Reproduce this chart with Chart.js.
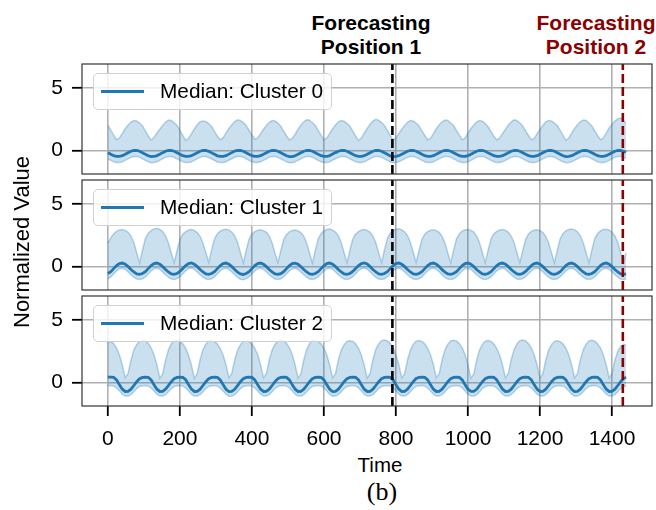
<!DOCTYPE html>
<html>
<head>
<meta charset="utf-8">
<script src="https://cdn.jsdelivr.net/npm/chart.js@4.4.0/dist/chart.umd.min.js"></script>
<style>
  html, body { margin: 0; padding: 0; background: #fff; }
  #fig { position: relative; width: 656px; height: 510px; overflow: hidden;
         font-family: 'Liberation Sans', Arial, sans-serif; color: #000; }
  #fig canvas { position: absolute; left: 0; }
  .ttl { position: absolute; top: 11px; font-weight: bold; font-size: 21px; line-height: 23.5px;
         text-align: center; white-space: nowrap; transform: translateX(-50%); }
  .lgd { position: absolute; left: 93px; width: 239px; height: 37px; box-sizing: border-box;
         border: 1.5px solid #d0d0d0; border-radius: 5px; background: rgba(255,255,255,0.8);
         display: flex; align-items: center; padding-left: 7px; }
  .lgd i { display: block; width: 43px; height: 2.8px; margin-right: 16px; }
  .lgd span { font-size: 20.8px; line-height: 1; white-space: nowrap; }
  #ylab { position: absolute; left: 22px; top: 242px; font-size: 22px; white-space: nowrap;
          transform: translate(-50%, -50%) rotate(-90deg); }
  #xlab { position: absolute; left: 380px; top: 465px; font-size: 20.5px; transform: translate(-50%, -50%); }
  #cap { position: absolute; left: 382px; top: 492px; font-family: 'Liberation Serif', 'Times New Roman', serif;
         font-size: 26px; transform: translate(-50%, -50%); white-space: nowrap; }
</style>
</head>
<body>
<div id="fig">
  <canvas id="c0" width="656" height="122"></canvas>
  <canvas id="c1" width="656" height="122"></canvas>
  <canvas id="c2" width="656" height="161"></canvas>
  <div class="ttl" id="t1" style="left:371px;color:#000"></div>
  <div class="ttl" id="t2" style="left:596px;color:#8b0000"></div>
  <div id="ylab"></div>
  <div id="xlab"></div>
  <div id="cap"></div>
</div>
<script>
'use strict';
// ─────────────────────────────────────────────
//  DATA  (sampled every 8 steps, read off the figure)
// ─────────────────────────────────────────────

const TIME = [
  0, 8, 16, 24, 32, 40, 48, 56, 64, 72, 80, 88,
  96, 104, 112, 120, 128, 136, 144, 152, 160, 168, 176, 184,
  192, 200, 208, 216, 224, 232, 240, 248, 256, 264, 272, 280,
  288, 296, 304, 312, 320, 328, 336, 344, 352, 360, 368, 376,
  384, 392, 400, 408, 416, 424, 432, 440, 448, 456, 464, 472,
  480, 488, 496, 504, 512, 520, 528, 536, 544, 552, 560, 568,
  576, 584, 592, 600, 608, 616, 624, 632, 640, 648, 656, 664,
  672, 680, 688, 696, 704, 712, 720, 728, 736, 744, 752, 760,
  768, 776, 784, 792, 800, 808, 816, 824, 832, 840, 848, 856,
  864, 872, 880, 888, 896, 904, 912, 920, 928, 936, 944, 952,
  960, 968, 976, 984, 992, 1000, 1008, 1016, 1024, 1032, 1040, 1048,
  1056, 1064, 1072, 1080, 1088, 1096, 1104, 1112, 1120, 1128, 1136, 1144,
  1152, 1160, 1168, 1176, 1184, 1192, 1200, 1208, 1216, 1224, 1232, 1240,
  1248, 1256, 1264, 1272, 1280, 1288, 1296, 1304, 1312, 1320, 1328, 1336,
  1344, 1352, 1360, 1368, 1376, 1384, 1392, 1400, 1408, 1416, 1424, 1432,
  1439,
];

// Cluster 0
const HIGH_0 = [
  2.02, 1.62, 1.22, 0.86, 1.00, 1.36, 1.74, 2.04, 2.28, 2.40, 2.36, 2.20,
  1.96, 1.56, 1.16, 0.84, 1.04, 1.40, 1.70, 2.00, 2.26, 2.44, 2.40, 2.22,
  2.00, 1.60, 1.20, 0.80, 0.96, 1.34, 1.72, 2.06, 2.30, 2.36, 2.32, 2.16,
  1.92, 1.52, 1.14, 0.86, 1.02, 1.40, 1.76, 2.06, 2.32, 2.46, 2.40, 2.24,
  2.00, 1.62, 1.24, 0.90, 1.00, 1.34, 1.70, 2.00, 2.24, 2.40, 2.36, 2.20,
  1.94, 1.54, 1.18, 0.84, 0.96, 1.30, 1.70, 2.04, 2.30, 2.46, 2.42, 2.22,
  2.00, 1.60, 1.20, 0.86, 1.00, 1.36, 1.74, 2.04, 2.30, 2.40, 2.34, 2.18,
  1.94, 1.54, 1.16, 0.80, 1.00, 1.40, 1.76, 2.10, 2.36, 2.50, 2.42, 2.24,
  2.00, 1.60, 1.20, 0.84, 1.00, 1.36, 1.70, 2.00, 2.26, 2.40, 2.36, 2.20,
  1.96, 1.56, 1.20, 0.86, 0.96, 1.34, 1.74, 2.06, 2.30, 2.44, 2.40, 2.20,
  2.00, 1.60, 1.22, 0.86, 1.00, 1.40, 1.76, 2.04, 2.30, 2.40, 2.34, 2.16,
  1.90, 1.50, 1.14, 0.84, 1.00, 1.36, 1.70, 2.04, 2.30, 2.46, 2.40, 2.20,
  1.96, 1.56, 1.20, 0.86, 0.96, 1.34, 1.70, 2.00, 2.30, 2.40, 2.36, 2.20,
  2.00, 1.60, 1.20, 0.80, 1.00, 1.40, 1.76, 2.06, 2.30, 2.44, 2.40, 2.20,
  1.96, 1.56, 1.20, 0.86, 1.00, 1.40, 1.80, 2.10, 2.36, 2.54, 2.60, 2.40,
  2.16,
];
const MED_0 = [
  -0.19, -0.31, -0.43, -0.49, -0.49, -0.43, -0.31, -0.19, -0.07, -0.01, -0.01, -0.07,
  -0.19, -0.32, -0.43, -0.50, -0.49, -0.42, -0.31, -0.18, -0.07, -0.01, 0.00, -0.07,
  -0.19, -0.31, -0.43, -0.49, -0.49, -0.43, -0.31, -0.19, -0.07, -0.01, -0.01, -0.08,
  -0.20, -0.32, -0.44, -0.49, -0.49, -0.43, -0.30, -0.18, -0.06, 0.00, -0.01, -0.07,
  -0.19, -0.31, -0.43, -0.49, -0.49, -0.43, -0.31, -0.19, -0.07, -0.01, -0.01, -0.07,
  -0.19, -0.31, -0.43, -0.50, -0.50, -0.43, -0.31, -0.19, -0.07, -0.01, -0.01, -0.07,
  -0.19, -0.32, -0.43, -0.49, -0.49, -0.42, -0.30, -0.18, -0.07, -0.01, 0.00, -0.07,
  -0.19, -0.31, -0.43, -0.49, -0.49, -0.43, -0.31, -0.19, -0.07, -0.01, -0.01, -0.07,
  -0.19, -0.31, -0.44, -0.50, -0.49, -0.43, -0.31, -0.19, -0.07, -0.01, -0.01, -0.07,
  -0.19, -0.31, -0.43, -0.49, -0.49, -0.43, -0.31, -0.19, -0.07, 0.00, -0.01, -0.07,
  -0.19, -0.31, -0.43, -0.49, -0.49, -0.43, -0.31, -0.19, -0.07, -0.01, -0.01, -0.07,
  -0.20, -0.32, -0.43, -0.49, -0.49, -0.43, -0.31, -0.19, -0.07, -0.01, -0.01, -0.07,
  -0.19, -0.31, -0.43, -0.49, -0.49, -0.43, -0.31, -0.19, -0.07, -0.01, -0.01, -0.07,
  -0.19, -0.31, -0.43, -0.50, -0.49, -0.43, -0.31, -0.19, -0.07, -0.01, 0.00, -0.07,
  -0.19, -0.31, -0.43, -0.49, -0.49, -0.43, -0.31, -0.19, -0.07, -0.01, -0.01, -0.07,
  -0.15,
];
const LOW_0 = [
  -0.68, -0.80, -0.92, -0.98, -0.98, -0.92, -0.80, -0.68, -0.56, -0.50, -0.50, -0.56,
  -0.68, -0.81, -0.92, -0.99, -0.98, -0.91, -0.80, -0.67, -0.56, -0.50, -0.49, -0.56,
  -0.68, -0.80, -0.92, -0.98, -0.98, -0.92, -0.80, -0.68, -0.56, -0.50, -0.50, -0.57,
  -0.69, -0.81, -0.93, -0.98, -0.98, -0.92, -0.79, -0.67, -0.55, -0.49, -0.50, -0.56,
  -0.68, -0.80, -0.92, -0.98, -0.98, -0.92, -0.80, -0.68, -0.56, -0.50, -0.50, -0.56,
  -0.68, -0.80, -0.92, -0.99, -0.99, -0.92, -0.80, -0.68, -0.56, -0.50, -0.50, -0.56,
  -0.68, -0.81, -0.92, -0.98, -0.98, -0.91, -0.79, -0.67, -0.56, -0.50, -0.49, -0.56,
  -0.68, -0.80, -0.92, -0.98, -0.98, -0.92, -0.80, -0.68, -0.56, -0.50, -0.50, -0.56,
  -0.68, -0.80, -0.93, -0.99, -0.98, -0.92, -0.80, -0.68, -0.56, -0.50, -0.50, -0.56,
  -0.68, -0.80, -0.92, -0.98, -0.98, -0.92, -0.80, -0.68, -0.56, -0.49, -0.50, -0.56,
  -0.68, -0.80, -0.92, -0.98, -0.98, -0.92, -0.80, -0.68, -0.56, -0.50, -0.50, -0.56,
  -0.69, -0.81, -0.92, -0.98, -0.98, -0.92, -0.80, -0.68, -0.56, -0.50, -0.50, -0.56,
  -0.68, -0.80, -0.92, -0.98, -0.98, -0.92, -0.80, -0.68, -0.56, -0.50, -0.50, -0.56,
  -0.68, -0.80, -0.92, -0.99, -0.98, -0.92, -0.80, -0.68, -0.56, -0.50, -0.49, -0.56,
  -0.68, -0.80, -0.92, -0.98, -0.98, -0.92, -0.80, -0.68, -0.56, -0.50, -0.50, -0.56,
  -0.64,
];

// Cluster 1
const HIGH_1 = [
  1.90, 2.30, 2.62, 2.82, 2.92, 2.96, 2.90, 2.74, 2.44, 1.90, 1.10, 0.28,
  1.30, 2.24, 2.66, 2.88, 3.02, 3.06, 2.98, 2.80, 2.46, 1.88, 1.08, 0.30,
  1.28, 2.18, 2.58, 2.80, 2.92, 2.96, 2.90, 2.72, 2.42, 1.86, 1.10, 0.32,
  1.32, 2.22, 2.62, 2.84, 2.94, 2.98, 2.92, 2.76, 2.46, 1.92, 1.12, 0.28,
  1.30, 2.20, 2.60, 2.80, 2.90, 2.94, 2.88, 2.74, 2.44, 1.88, 1.08, 0.30,
  1.26, 2.16, 2.56, 2.78, 2.88, 2.92, 2.86, 2.72, 2.42, 1.86, 1.06, 0.28,
  1.32, 2.22, 2.64, 2.86, 2.96, 3.00, 2.92, 2.76, 2.46, 1.90, 1.10, 0.30,
  1.30, 2.20, 2.60, 2.80, 2.92, 2.96, 2.90, 2.74, 2.44, 1.90, 1.10, 0.30,
  1.34, 2.24, 2.66, 2.88, 2.98, 3.02, 2.94, 2.78, 2.48, 1.92, 1.12, 0.32,
  1.28, 2.18, 2.58, 2.80, 2.90, 2.94, 2.88, 2.74, 2.42, 1.88, 1.08, 0.28,
  1.30, 2.22, 2.62, 2.84, 2.94, 2.96, 2.90, 2.76, 2.44, 1.90, 1.10, 0.30,
  1.32, 2.22, 2.62, 2.82, 2.92, 2.96, 2.90, 2.74, 2.44, 1.90, 1.10, 0.30,
  1.28, 2.18, 2.60, 2.82, 2.92, 2.94, 2.88, 2.72, 2.42, 1.88, 1.08, 0.28,
  1.30, 2.22, 2.64, 2.86, 2.96, 3.00, 2.94, 2.78, 2.46, 1.90, 1.10, 0.30,
  1.32, 2.24, 2.64, 2.86, 2.96, 2.98, 2.92, 2.76, 2.46, 1.92, 1.12, 0.30,
  1.10,
];
const MED_1 = [
  -0.58, -0.42, -0.18, 0.06, 0.22, 0.27, 0.18, -0.02, -0.25, -0.45, -0.60, -0.64,
  -0.57, -0.42, -0.18, 0.06, 0.22, 0.27, 0.18, -0.02, -0.25, -0.45, -0.60, -0.64,
  -0.57, -0.41, -0.17, 0.07, 0.23, 0.28, 0.18, -0.02, -0.25, -0.45, -0.60, -0.64,
  -0.57, -0.42, -0.18, 0.06, 0.22, 0.27, 0.18, -0.02, -0.25, -0.46, -0.61, -0.65,
  -0.57, -0.42, -0.18, 0.06, 0.22, 0.27, 0.18, -0.02, -0.25, -0.45, -0.60, -0.64,
  -0.58, -0.42, -0.18, 0.06, 0.22, 0.26, 0.17, -0.03, -0.25, -0.45, -0.60, -0.64,
  -0.57, -0.42, -0.18, 0.06, 0.22, 0.27, 0.18, -0.02, -0.25, -0.45, -0.60, -0.64,
  -0.57, -0.41, -0.17, 0.07, 0.23, 0.28, 0.19, -0.02, -0.25, -0.45, -0.60, -0.64,
  -0.57, -0.42, -0.18, 0.06, 0.22, 0.27, 0.18, -0.02, -0.25, -0.45, -0.60, -0.64,
  -0.57, -0.42, -0.18, 0.06, 0.22, 0.27, 0.18, -0.02, -0.26, -0.46, -0.60, -0.64,
  -0.57, -0.42, -0.18, 0.06, 0.22, 0.27, 0.18, -0.02, -0.25, -0.45, -0.60, -0.64,
  -0.57, -0.42, -0.18, 0.06, 0.22, 0.27, 0.18, -0.02, -0.25, -0.45, -0.60, -0.64,
  -0.57, -0.41, -0.17, 0.06, 0.22, 0.27, 0.18, -0.02, -0.25, -0.45, -0.60, -0.64,
  -0.57, -0.42, -0.18, 0.06, 0.22, 0.27, 0.18, -0.02, -0.25, -0.45, -0.60, -0.64,
  -0.57, -0.42, -0.18, 0.06, 0.22, 0.27, 0.18, -0.02, -0.25, -0.45, -0.60, -0.64,
  -0.60,
];
const LOW_1 = [
  -1.00, -0.84, -0.60, -0.36, -0.20, -0.15, -0.24, -0.44, -0.67, -0.87, -1.02, -1.06,
  -0.99, -0.84, -0.60, -0.36, -0.20, -0.15, -0.24, -0.44, -0.67, -0.87, -1.02, -1.06,
  -0.99, -0.83, -0.59, -0.35, -0.19, -0.14, -0.24, -0.44, -0.67, -0.87, -1.02, -1.06,
  -0.99, -0.84, -0.60, -0.36, -0.20, -0.15, -0.24, -0.44, -0.67, -0.88, -1.03, -1.07,
  -0.99, -0.84, -0.60, -0.36, -0.20, -0.15, -0.24, -0.44, -0.67, -0.87, -1.02, -1.06,
  -1.00, -0.84, -0.60, -0.36, -0.20, -0.16, -0.25, -0.45, -0.67, -0.87, -1.02, -1.06,
  -0.99, -0.84, -0.60, -0.36, -0.20, -0.15, -0.24, -0.44, -0.67, -0.87, -1.02, -1.06,
  -0.99, -0.83, -0.59, -0.35, -0.19, -0.14, -0.23, -0.44, -0.67, -0.87, -1.02, -1.06,
  -0.99, -0.84, -0.60, -0.36, -0.20, -0.15, -0.24, -0.44, -0.67, -0.87, -1.02, -1.06,
  -0.99, -0.84, -0.60, -0.36, -0.20, -0.15, -0.24, -0.44, -0.68, -0.88, -1.02, -1.06,
  -0.99, -0.84, -0.60, -0.36, -0.20, -0.15, -0.24, -0.44, -0.67, -0.87, -1.02, -1.06,
  -0.99, -0.84, -0.60, -0.36, -0.20, -0.15, -0.24, -0.44, -0.67, -0.87, -1.02, -1.06,
  -0.99, -0.83, -0.59, -0.36, -0.20, -0.15, -0.24, -0.44, -0.67, -0.87, -1.02, -1.06,
  -0.99, -0.84, -0.60, -0.36, -0.20, -0.15, -0.24, -0.44, -0.67, -0.87, -1.02, -1.06,
  -0.99, -0.84, -0.60, -0.36, -0.20, -0.15, -0.24, -0.44, -0.67, -0.87, -1.02, -1.06,
  -1.02,
];

// Cluster 2
const HIGH_2 = [
  3.20, 3.30, 3.12, 2.76, 2.20, 1.40, 0.36, 0.72, 1.80, 2.60, 3.06, 3.30,
  3.38, 3.34, 3.14, 2.78, 2.22, 1.42, 0.34, 0.68, 1.78, 2.62, 3.10, 3.36,
  3.40, 3.32, 3.10, 2.74, 2.18, 1.38, 0.32, 0.70, 1.82, 2.64, 3.08, 3.34,
  3.36, 3.30, 3.08, 2.72, 2.18, 1.40, 0.36, 0.72, 1.80, 2.58, 3.04, 3.30,
  3.34, 3.28, 3.08, 2.74, 2.20, 1.42, 0.38, 0.70, 1.80, 2.60, 3.06, 3.32,
  3.42, 3.36, 3.14, 2.78, 2.22, 1.40, 0.34, 0.68, 1.82, 2.64, 3.12, 3.38,
  3.36, 3.30, 3.10, 2.76, 2.20, 1.40, 0.36, 0.70, 1.80, 2.60, 3.04, 3.30,
  3.34, 3.30, 3.10, 2.74, 2.18, 1.38, 0.34, 0.72, 1.84, 2.66, 3.10, 3.36,
  3.40, 3.34, 3.12, 2.76, 2.20, 1.40, 0.36, 0.70, 1.80, 2.60, 3.06, 3.32,
  3.36, 3.30, 3.10, 2.74, 2.20, 1.42, 0.36, 0.70, 1.80, 2.62, 3.08, 3.34,
  3.38, 3.32, 3.12, 2.78, 2.22, 1.40, 0.34, 0.68, 1.78, 2.60, 3.06, 3.32,
  3.36, 3.30, 3.08, 2.72, 2.18, 1.38, 0.36, 0.72, 1.82, 2.64, 3.10, 3.36,
  3.40, 3.34, 3.12, 2.76, 2.20, 1.40, 0.34, 0.70, 1.80, 2.60, 3.04, 3.30,
  3.34, 3.28, 3.08, 2.74, 2.20, 1.40, 0.36, 0.70, 1.82, 2.62, 3.08, 3.34,
  3.38, 3.32, 3.10, 2.76, 2.20, 1.40, 0.36, 0.70, 1.80, 2.50, 2.90, 3.05,
  3.00,
];
const MED_2 = [
  0.42, 0.42, 0.40, 0.20, -0.20, -0.55, -0.73, -0.72, -0.55, -0.25, 0.05, 0.30,
  0.40, 0.42, 0.40, 0.20, -0.20, -0.55, -0.73, -0.72, -0.55, -0.25, 0.05, 0.30,
  0.40, 0.42, 0.40, 0.21, -0.19, -0.54, -0.73, -0.72, -0.55, -0.25, 0.05, 0.30,
  0.40, 0.42, 0.40, 0.20, -0.20, -0.55, -0.74, -0.73, -0.56, -0.26, 0.05, 0.30,
  0.40, 0.42, 0.40, 0.20, -0.20, -0.55, -0.73, -0.72, -0.55, -0.25, 0.05, 0.30,
  0.41, 0.42, 0.40, 0.20, -0.20, -0.55, -0.73, -0.72, -0.55, -0.25, 0.05, 0.30,
  0.40, 0.42, 0.40, 0.20, -0.20, -0.56, -0.74, -0.72, -0.55, -0.25, 0.05, 0.30,
  0.40, 0.42, 0.40, 0.20, -0.20, -0.55, -0.73, -0.72, -0.55, -0.25, 0.05, 0.30,
  0.40, 0.42, 0.40, 0.20, -0.20, -0.55, -0.73, -0.72, -0.55, -0.25, 0.06, 0.31,
  0.40, 0.42, 0.40, 0.20, -0.20, -0.55, -0.73, -0.72, -0.55, -0.25, 0.05, 0.30,
  0.40, 0.42, 0.40, 0.20, -0.20, -0.55, -0.73, -0.73, -0.56, -0.25, 0.05, 0.30,
  0.40, 0.42, 0.40, 0.20, -0.20, -0.55, -0.73, -0.72, -0.55, -0.25, 0.05, 0.30,
  0.40, 0.42, 0.40, 0.20, -0.20, -0.55, -0.73, -0.72, -0.55, -0.25, 0.05, 0.30,
  0.40, 0.42, 0.40, 0.20, -0.20, -0.55, -0.74, -0.72, -0.55, -0.25, 0.05, 0.30,
  0.40, 0.42, 0.40, 0.20, -0.20, -0.55, -0.73, -0.72, -0.55, -0.25, 0.05, 0.30,
  0.42,
];
const LOW_2 = [
  -0.28, -0.25, -0.30, -0.45, -0.70, -0.95, -1.10, -1.10, -0.98, -0.75, -0.50, -0.33,
  -0.28, -0.25, -0.30, -0.45, -0.70, -0.95, -1.10, -1.10, -0.98, -0.75, -0.50, -0.33,
  -0.28, -0.25, -0.30, -0.44, -0.69, -0.94, -1.10, -1.10, -0.98, -0.75, -0.50, -0.33,
  -0.28, -0.25, -0.30, -0.45, -0.70, -0.95, -1.11, -1.11, -0.99, -0.76, -0.50, -0.33,
  -0.28, -0.25, -0.30, -0.45, -0.70, -0.95, -1.10, -1.10, -0.98, -0.75, -0.50, -0.33,
  -0.27, -0.25, -0.30, -0.45, -0.70, -0.95, -1.10, -1.10, -0.98, -0.75, -0.50, -0.33,
  -0.28, -0.25, -0.30, -0.45, -0.70, -0.96, -1.11, -1.10, -0.98, -0.75, -0.50, -0.33,
  -0.28, -0.25, -0.30, -0.45, -0.70, -0.95, -1.10, -1.10, -0.98, -0.75, -0.50, -0.33,
  -0.28, -0.25, -0.30, -0.45, -0.70, -0.95, -1.10, -1.10, -0.98, -0.75, -0.49, -0.32,
  -0.28, -0.25, -0.30, -0.45, -0.70, -0.95, -1.10, -1.10, -0.98, -0.75, -0.50, -0.33,
  -0.28, -0.25, -0.30, -0.45, -0.70, -0.95, -1.10, -1.11, -0.99, -0.75, -0.50, -0.33,
  -0.28, -0.25, -0.30, -0.45, -0.70, -0.95, -1.10, -1.10, -0.98, -0.75, -0.50, -0.33,
  -0.28, -0.25, -0.30, -0.45, -0.70, -0.95, -1.10, -1.10, -0.98, -0.75, -0.50, -0.33,
  -0.28, -0.25, -0.30, -0.45, -0.70, -0.95, -1.11, -1.10, -0.98, -0.75, -0.50, -0.33,
  -0.28, -0.25, -0.30, -0.45, -0.70, -0.95, -1.10, -1.10, -0.98, -0.75, -0.50, -0.33,
  -0.28,
];

const LABELS = ['Median: Cluster 0', 'Median: Cluster 1', 'Median: Cluster 2'];
const FORECAST_POS = [790, 1430];
const FORECAST_TITLES = ['Forecasting\nPosition 1', 'Forecasting\nPosition 2'];
const FORECAST_COLORS = ['#000000', '#8b0000'];
const X_TICKS = [0, 200, 400, 600, 800, 1000, 1200, 1400];
const Y_TICKS = [0, 5];
const X_RANGE = [-72, 1511];
const Y_RANGE = [-1.9, 6.95];

// ─────────────────────────────────────────────
//  LAYOUT
// ─────────────────────────────────────────────

const PANEL_TOP = [64, 180, 296];
const PANEL_H = 110;
const PAD = 6;
const AXIS_W = 82;
const XAXIS_H = 45;
const FONT = "'Liberation Sans', Arial, sans-serif";
const BLUE = '#1f77b4';
const GRID = '#b0b0b0';

const PANELS = [
  { label: LABELS[0], hi: HIGH_0, med: MED_0, lo: LOW_0 },
  { label: LABELS[1], hi: HIGH_1, med: MED_1, lo: LOW_1 },
  { label: LABELS[2], hi: HIGH_2, med: MED_2, lo: LOW_2 },
];

const xy = ys => TIME.map((t, i) => ({ x: t, y: ys[i] }));

const frame = {
  id: 'frame',
  afterDatasetsDraw(chart) {
    const { ctx, chartArea: a } = chart;
    ctx.save();
    ctx.strokeStyle = '#333';
    ctx.lineWidth = 1.2;
    ctx.strokeRect(a.left, a.top, a.right - a.left, a.bottom - a.top);
    ctx.restore();
  },
};

function makePanel(idx) {
  const p = PANELS[idx];
  const bottom = idx === PANELS.length - 1;
  const canvas = document.getElementById('c' + idx);
  canvas.style.top = (PANEL_TOP[idx] - PAD) + 'px';

  const band = 'rgba(31,119,180,0.23)';
  const edge = 'rgba(31,119,180,0.3)';

  const datasets = [
    { label: 'upper', data: xy(p.hi), borderColor: edge, borderWidth: 1.5,
      backgroundColor: band, fill: '+1', pointRadius: 0, order: 3 },
    { label: 'lower', data: xy(p.lo), borderColor: edge, borderWidth: 1.5,
      fill: false, pointRadius: 0, order: 4 },
    { label: p.label, data: xy(p.med), borderColor: BLUE, borderWidth: 2.8,
      fill: false, pointRadius: 0, order: 2 },
  ];
  FORECAST_POS.forEach((pos, k) => {
    datasets.push({
      label: 'pos' + k,
      data: [{ x: pos, y: Y_RANGE[0] }, { x: pos, y: Y_RANGE[1] }],
      borderColor: FORECAST_COLORS[k], borderWidth: 2.6, borderDash: [9, 4],
      fill: false, pointRadius: 0, order: 1,
    });
  });

  const tickFont = { family: FONT, size: 21 };

  return new Chart(canvas, {
    type: 'line',
    data: { datasets },
    options: {
      responsive: false,
      animation: false,
      events: [],
      layout: { padding: { top: PAD, bottom: bottom ? 0 : PAD, left: 0, right: 4 } },
      plugins: { legend: { display: false }, tooltip: { enabled: false } },
      scales: {
        x: {
          type: 'linear',
          min: X_RANGE[0],
          max: X_RANGE[1],
          afterBuildTicks: s => { s.ticks = X_TICKS.map(v => ({ value: v })); },
          afterFit: s => { s.height = bottom ? XAXIS_H : 0; s.paddingLeft = 0; s.paddingRight = 0; },
          border: { display: false },
          grid: { color: GRID, lineWidth: 1.6, drawTicks: bottom, tickLength: 10,
                  tickColor: '#000', tickWidth: 1.8 },
          ticks: { display: bottom, color: '#000', font: tickFont, padding: 10.5,
                   maxRotation: 0, autoSkip: false, callback: v => String(v) },
        },
        y: {
          type: 'linear',
          min: Y_RANGE[0],
          max: Y_RANGE[1],
          afterBuildTicks: s => { s.ticks = Y_TICKS.map(v => ({ value: v })); },
          afterFit: s => { s.width = AXIS_W; s.paddingTop = 0; s.paddingBottom = 0; },
          border: { display: false },
          grid: { color: GRID, lineWidth: 1.6, drawTicks: true, tickLength: 10,
                  tickColor: '#000', tickWidth: 1.8 },
          ticks: { color: '#000', font: tickFont, padding: 9, callback: v => String(v) },
        },
      },
    },
    plugins: [frame],
  });
}

const charts = PANELS.map((_, i) => makePanel(i));

// legends inside each panel (from the median dataset)
charts.forEach((chart, i) => {
  const ds = chart.data.datasets[2];
  const box = document.createElement('div');
  box.className = 'lgd';
  box.style.top = (PANEL_TOP[i] + 9.3) + 'px';
  const sw = document.createElement('i');
  sw.style.background = ds.borderColor;
  const txt = document.createElement('span');
  txt.textContent = ds.label;
  box.appendChild(sw);
  box.appendChild(txt);
  document.getElementById('fig').appendChild(box);
});

// titles and axis labels
['t1', 't2'].forEach((id, k) => {
  const el = document.getElementById(id);
  FORECAST_TITLES[k].split('\n').forEach((line, j) => {
    if (j) el.appendChild(document.createElement('br'));
    el.appendChild(document.createTextNode(line));
  });
});
document.getElementById('ylab').textContent = 'Normalized Value';
document.getElementById('xlab').textContent = 'Time';
document.getElementById('cap').textContent = '(b)';
</script>
</body>
</html>
